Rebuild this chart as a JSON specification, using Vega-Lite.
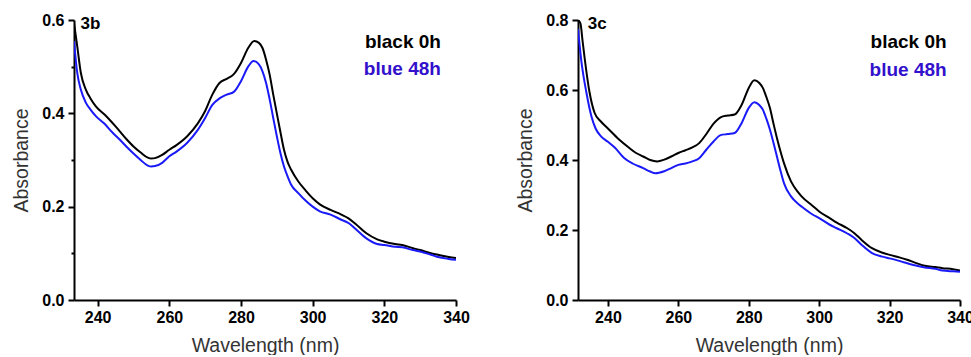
{
  "$schema": "https://vega.github.io/schema/vega-lite/v6.json",
  "autosize": {"type": "pad"},
  "padding": {"left": 11, "top": 12, "right": 0, "bottom": 0},
  "background": "white",
  "config": {
    "view": {"stroke": null},
    "axis": {
      "grid": false,
      "domainColor": "#000000",
      "domainWidth": 2,
      "tickColor": "#000000",
      "tickWidth": 2,
      "labelFont": "Liberation Sans",
      "labelFontWeight": "bold",
      "labelFontSize": 16,
      "labelColor": "#000000",
      "titleFont": "Liberation Sans",
      "titleFontWeight": "normal",
      "titleFontSize": 19.5,
      "titleColor": "#333333"
    }
  },
  "datasets": {
    "spec": [
      {"panel":"3b","series":"black 0h","wl":233.4,"A":0.594},
      {"panel":"3b","series":"black 0h","wl":234.3,"A":0.544},
      {"panel":"3b","series":"black 0h","wl":235.3,"A":0.487},
      {"panel":"3b","series":"black 0h","wl":236.7,"A":0.451},
      {"panel":"3b","series":"black 0h","wl":238,"A":0.432},
      {"panel":"3b","series":"black 0h","wl":239.5,"A":0.415},
      {"panel":"3b","series":"black 0h","wl":242,"A":0.397},
      {"panel":"3b","series":"black 0h","wl":245,"A":0.372},
      {"panel":"3b","series":"black 0h","wl":248,"A":0.345},
      {"panel":"3b","series":"black 0h","wl":250,"A":0.329},
      {"panel":"3b","series":"black 0h","wl":252,"A":0.316},
      {"panel":"3b","series":"black 0h","wl":254,"A":0.305},
      {"panel":"3b","series":"black 0h","wl":255,"A":0.303},
      {"panel":"3b","series":"black 0h","wl":256,"A":0.304},
      {"panel":"3b","series":"black 0h","wl":258,"A":0.311},
      {"panel":"3b","series":"black 0h","wl":260,"A":0.322},
      {"panel":"3b","series":"black 0h","wl":262,"A":0.332},
      {"panel":"3b","series":"black 0h","wl":265,"A":0.351},
      {"panel":"3b","series":"black 0h","wl":268,"A":0.379},
      {"panel":"3b","series":"black 0h","wl":270,"A":0.405},
      {"panel":"3b","series":"black 0h","wl":272,"A":0.44},
      {"panel":"3b","series":"black 0h","wl":274,"A":0.465},
      {"panel":"3b","series":"black 0h","wl":276,"A":0.474},
      {"panel":"3b","series":"black 0h","wl":278,"A":0.484},
      {"panel":"3b","series":"black 0h","wl":280,"A":0.508},
      {"panel":"3b","series":"black 0h","wl":282,"A":0.54},
      {"panel":"3b","series":"black 0h","wl":283.7,"A":0.555},
      {"panel":"3b","series":"black 0h","wl":285,"A":0.551},
      {"panel":"3b","series":"black 0h","wl":286,"A":0.54},
      {"panel":"3b","series":"black 0h","wl":287,"A":0.515},
      {"panel":"3b","series":"black 0h","wl":288,"A":0.483},
      {"panel":"3b","series":"black 0h","wl":289,"A":0.44},
      {"panel":"3b","series":"black 0h","wl":290,"A":0.4},
      {"panel":"3b","series":"black 0h","wl":291,"A":0.36},
      {"panel":"3b","series":"black 0h","wl":292,"A":0.322},
      {"panel":"3b","series":"black 0h","wl":293,"A":0.296},
      {"panel":"3b","series":"black 0h","wl":294,"A":0.279},
      {"panel":"3b","series":"black 0h","wl":296,"A":0.254},
      {"panel":"3b","series":"black 0h","wl":298,"A":0.235},
      {"panel":"3b","series":"black 0h","wl":300,"A":0.218},
      {"panel":"3b","series":"black 0h","wl":302,"A":0.205},
      {"panel":"3b","series":"black 0h","wl":305,"A":0.193},
      {"panel":"3b","series":"black 0h","wl":308,"A":0.183},
      {"panel":"3b","series":"black 0h","wl":310,"A":0.175},
      {"panel":"3b","series":"black 0h","wl":312,"A":0.163},
      {"panel":"3b","series":"black 0h","wl":315,"A":0.143},
      {"panel":"3b","series":"black 0h","wl":318,"A":0.13},
      {"panel":"3b","series":"black 0h","wl":320,"A":0.125},
      {"panel":"3b","series":"black 0h","wl":323,"A":0.12},
      {"panel":"3b","series":"black 0h","wl":325,"A":0.118},
      {"panel":"3b","series":"black 0h","wl":328,"A":0.111},
      {"panel":"3b","series":"black 0h","wl":330,"A":0.107},
      {"panel":"3b","series":"black 0h","wl":333,"A":0.1},
      {"panel":"3b","series":"black 0h","wl":335,"A":0.097},
      {"panel":"3b","series":"black 0h","wl":338,"A":0.092},
      {"panel":"3b","series":"black 0h","wl":340,"A":0.09},
      {"panel":"3b","series":"blue 48h","wl":233.4,"A":0.555},
      {"panel":"3b","series":"blue 48h","wl":234.3,"A":0.487},
      {"panel":"3b","series":"blue 48h","wl":235.3,"A":0.451},
      {"panel":"3b","series":"blue 48h","wl":236.7,"A":0.423},
      {"panel":"3b","series":"blue 48h","wl":238,"A":0.408},
      {"panel":"3b","series":"blue 48h","wl":239.5,"A":0.394},
      {"panel":"3b","series":"blue 48h","wl":242,"A":0.377},
      {"panel":"3b","series":"blue 48h","wl":244,"A":0.36},
      {"panel":"3b","series":"blue 48h","wl":246,"A":0.345},
      {"panel":"3b","series":"blue 48h","wl":248,"A":0.329},
      {"panel":"3b","series":"blue 48h","wl":250,"A":0.314},
      {"panel":"3b","series":"blue 48h","wl":252,"A":0.3},
      {"panel":"3b","series":"blue 48h","wl":254,"A":0.288},
      {"panel":"3b","series":"blue 48h","wl":255,"A":0.286},
      {"panel":"3b","series":"blue 48h","wl":256,"A":0.287},
      {"panel":"3b","series":"blue 48h","wl":258,"A":0.294},
      {"panel":"3b","series":"blue 48h","wl":260,"A":0.308},
      {"panel":"3b","series":"blue 48h","wl":262,"A":0.318},
      {"panel":"3b","series":"blue 48h","wl":265,"A":0.337},
      {"panel":"3b","series":"blue 48h","wl":268,"A":0.365},
      {"panel":"3b","series":"blue 48h","wl":270,"A":0.39},
      {"panel":"3b","series":"blue 48h","wl":272,"A":0.418},
      {"panel":"3b","series":"blue 48h","wl":274,"A":0.432},
      {"panel":"3b","series":"blue 48h","wl":276,"A":0.44},
      {"panel":"3b","series":"blue 48h","wl":278,"A":0.446},
      {"panel":"3b","series":"blue 48h","wl":280,"A":0.469},
      {"panel":"3b","series":"blue 48h","wl":282,"A":0.5},
      {"panel":"3b","series":"blue 48h","wl":283.5,"A":0.512},
      {"panel":"3b","series":"blue 48h","wl":285,"A":0.505},
      {"panel":"3b","series":"blue 48h","wl":286,"A":0.49},
      {"panel":"3b","series":"blue 48h","wl":287,"A":0.465},
      {"panel":"3b","series":"blue 48h","wl":288,"A":0.43},
      {"panel":"3b","series":"blue 48h","wl":289,"A":0.39},
      {"panel":"3b","series":"blue 48h","wl":290,"A":0.351},
      {"panel":"3b","series":"blue 48h","wl":291,"A":0.315},
      {"panel":"3b","series":"blue 48h","wl":292,"A":0.286},
      {"panel":"3b","series":"blue 48h","wl":293,"A":0.265},
      {"panel":"3b","series":"blue 48h","wl":294,"A":0.247},
      {"panel":"3b","series":"blue 48h","wl":296,"A":0.229},
      {"panel":"3b","series":"blue 48h","wl":298,"A":0.213},
      {"panel":"3b","series":"blue 48h","wl":300,"A":0.2},
      {"panel":"3b","series":"blue 48h","wl":302,"A":0.19},
      {"panel":"3b","series":"blue 48h","wl":305,"A":0.183},
      {"panel":"3b","series":"blue 48h","wl":308,"A":0.172},
      {"panel":"3b","series":"blue 48h","wl":310,"A":0.165},
      {"panel":"3b","series":"blue 48h","wl":312,"A":0.152},
      {"panel":"3b","series":"blue 48h","wl":315,"A":0.132},
      {"panel":"3b","series":"blue 48h","wl":318,"A":0.12},
      {"panel":"3b","series":"blue 48h","wl":320,"A":0.118},
      {"panel":"3b","series":"blue 48h","wl":323,"A":0.114},
      {"panel":"3b","series":"blue 48h","wl":325,"A":0.113},
      {"panel":"3b","series":"blue 48h","wl":328,"A":0.107},
      {"panel":"3b","series":"blue 48h","wl":330,"A":0.104},
      {"panel":"3b","series":"blue 48h","wl":333,"A":0.097},
      {"panel":"3b","series":"blue 48h","wl":335,"A":0.092},
      {"panel":"3b","series":"blue 48h","wl":338,"A":0.088},
      {"panel":"3b","series":"blue 48h","wl":340,"A":0.086},
      {"panel":"3c","series":"black 0h","wl":231.5,"A":0.8},
      {"panel":"3c","series":"black 0h","wl":232.2,"A":0.79},
      {"panel":"3c","series":"black 0h","wl":232.8,"A":0.74},
      {"panel":"3c","series":"black 0h","wl":233.4,"A":0.69},
      {"panel":"3c","series":"black 0h","wl":234.8,"A":0.592},
      {"panel":"3c","series":"black 0h","wl":236.2,"A":0.535},
      {"panel":"3c","series":"black 0h","wl":238,"A":0.51},
      {"panel":"3c","series":"black 0h","wl":240,"A":0.49},
      {"panel":"3c","series":"black 0h","wl":243,"A":0.46},
      {"panel":"3c","series":"black 0h","wl":246,"A":0.435},
      {"panel":"3c","series":"black 0h","wl":248,"A":0.42},
      {"panel":"3c","series":"black 0h","wl":250,"A":0.41},
      {"panel":"3c","series":"black 0h","wl":252,"A":0.4},
      {"panel":"3c","series":"black 0h","wl":254,"A":0.396},
      {"panel":"3c","series":"black 0h","wl":256,"A":0.401},
      {"panel":"3c","series":"black 0h","wl":258,"A":0.41},
      {"panel":"3c","series":"black 0h","wl":260,"A":0.42},
      {"panel":"3c","series":"black 0h","wl":262,"A":0.428},
      {"panel":"3c","series":"black 0h","wl":264,"A":0.436},
      {"panel":"3c","series":"black 0h","wl":266,"A":0.449},
      {"panel":"3c","series":"black 0h","wl":268,"A":0.475},
      {"panel":"3c","series":"black 0h","wl":270,"A":0.504},
      {"panel":"3c","series":"black 0h","wl":272,"A":0.522},
      {"panel":"3c","series":"black 0h","wl":274,"A":0.527},
      {"panel":"3c","series":"black 0h","wl":276,"A":0.53},
      {"panel":"3c","series":"black 0h","wl":278,"A":0.558},
      {"panel":"3c","series":"black 0h","wl":280,"A":0.606},
      {"panel":"3c","series":"black 0h","wl":281.6,"A":0.628},
      {"panel":"3c","series":"black 0h","wl":283,"A":0.62},
      {"panel":"3c","series":"black 0h","wl":284,"A":0.606},
      {"panel":"3c","series":"black 0h","wl":285,"A":0.58},
      {"panel":"3c","series":"black 0h","wl":286,"A":0.549},
      {"panel":"3c","series":"black 0h","wl":287,"A":0.505},
      {"panel":"3c","series":"black 0h","wl":288,"A":0.463},
      {"panel":"3c","series":"black 0h","wl":289,"A":0.425},
      {"panel":"3c","series":"black 0h","wl":290,"A":0.391},
      {"panel":"3c","series":"black 0h","wl":292,"A":0.339},
      {"panel":"3c","series":"black 0h","wl":294,"A":0.308},
      {"panel":"3c","series":"black 0h","wl":295,"A":0.296},
      {"panel":"3c","series":"black 0h","wl":298,"A":0.27},
      {"panel":"3c","series":"black 0h","wl":300,"A":0.253},
      {"panel":"3c","series":"black 0h","wl":303,"A":0.234},
      {"panel":"3c","series":"black 0h","wl":305,"A":0.221},
      {"panel":"3c","series":"black 0h","wl":308,"A":0.205},
      {"panel":"3c","series":"black 0h","wl":310,"A":0.191},
      {"panel":"3c","series":"black 0h","wl":312,"A":0.172},
      {"panel":"3c","series":"black 0h","wl":315,"A":0.148},
      {"panel":"3c","series":"black 0h","wl":318,"A":0.135},
      {"panel":"3c","series":"black 0h","wl":320,"A":0.129},
      {"panel":"3c","series":"black 0h","wl":323,"A":0.121},
      {"panel":"3c","series":"black 0h","wl":325,"A":0.115},
      {"panel":"3c","series":"black 0h","wl":328,"A":0.104},
      {"panel":"3c","series":"black 0h","wl":330,"A":0.098},
      {"panel":"3c","series":"black 0h","wl":333,"A":0.094},
      {"panel":"3c","series":"black 0h","wl":335,"A":0.091},
      {"panel":"3c","series":"black 0h","wl":338,"A":0.088},
      {"panel":"3c","series":"black 0h","wl":340,"A":0.084},
      {"panel":"3c","series":"blue 48h","wl":231.5,"A":0.775},
      {"panel":"3c","series":"blue 48h","wl":232.4,"A":0.687},
      {"panel":"3c","series":"blue 48h","wl":233.9,"A":0.592},
      {"panel":"3c","series":"blue 48h","wl":235.3,"A":0.525},
      {"panel":"3c","series":"blue 48h","wl":236.5,"A":0.49},
      {"panel":"3c","series":"blue 48h","wl":238.1,"A":0.467},
      {"panel":"3c","series":"blue 48h","wl":240,"A":0.452},
      {"panel":"3c","series":"blue 48h","wl":242,"A":0.435},
      {"panel":"3c","series":"blue 48h","wl":244.6,"A":0.406},
      {"panel":"3c","series":"blue 48h","wl":247,"A":0.39},
      {"panel":"3c","series":"blue 48h","wl":250,"A":0.377},
      {"panel":"3c","series":"blue 48h","wl":252,"A":0.367},
      {"panel":"3c","series":"blue 48h","wl":253.5,"A":0.362},
      {"panel":"3c","series":"blue 48h","wl":256,"A":0.368},
      {"panel":"3c","series":"blue 48h","wl":258,"A":0.377},
      {"panel":"3c","series":"blue 48h","wl":260,"A":0.386},
      {"panel":"3c","series":"blue 48h","wl":262,"A":0.39},
      {"panel":"3c","series":"blue 48h","wl":264,"A":0.396},
      {"panel":"3c","series":"blue 48h","wl":266,"A":0.406},
      {"panel":"3c","series":"blue 48h","wl":268,"A":0.43},
      {"panel":"3c","series":"blue 48h","wl":270,"A":0.453},
      {"panel":"3c","series":"blue 48h","wl":272,"A":0.471},
      {"panel":"3c","series":"blue 48h","wl":274,"A":0.474},
      {"panel":"3c","series":"blue 48h","wl":276,"A":0.477},
      {"panel":"3c","series":"blue 48h","wl":278,"A":0.506},
      {"panel":"3c","series":"blue 48h","wl":280,"A":0.549},
      {"panel":"3c","series":"blue 48h","wl":281.6,"A":0.565},
      {"panel":"3c","series":"blue 48h","wl":283,"A":0.557},
      {"panel":"3c","series":"blue 48h","wl":284,"A":0.544},
      {"panel":"3c","series":"blue 48h","wl":285,"A":0.518},
      {"panel":"3c","series":"blue 48h","wl":286,"A":0.487},
      {"panel":"3c","series":"blue 48h","wl":287,"A":0.45},
      {"panel":"3c","series":"blue 48h","wl":288,"A":0.41},
      {"panel":"3c","series":"blue 48h","wl":289,"A":0.37},
      {"panel":"3c","series":"blue 48h","wl":290,"A":0.334},
      {"panel":"3c","series":"blue 48h","wl":292,"A":0.296},
      {"panel":"3c","series":"blue 48h","wl":294,"A":0.275},
      {"panel":"3c","series":"blue 48h","wl":295,"A":0.267},
      {"panel":"3c","series":"blue 48h","wl":298,"A":0.245},
      {"panel":"3c","series":"blue 48h","wl":300,"A":0.234},
      {"panel":"3c","series":"blue 48h","wl":303,"A":0.215},
      {"panel":"3c","series":"blue 48h","wl":305,"A":0.205},
      {"panel":"3c","series":"blue 48h","wl":308,"A":0.19},
      {"panel":"3c","series":"blue 48h","wl":310,"A":0.177},
      {"panel":"3c","series":"blue 48h","wl":312,"A":0.158},
      {"panel":"3c","series":"blue 48h","wl":315,"A":0.134},
      {"panel":"3c","series":"blue 48h","wl":318,"A":0.124},
      {"panel":"3c","series":"blue 48h","wl":320,"A":0.119},
      {"panel":"3c","series":"blue 48h","wl":323,"A":0.111},
      {"panel":"3c","series":"blue 48h","wl":325,"A":0.105},
      {"panel":"3c","series":"blue 48h","wl":328,"A":0.097},
      {"panel":"3c","series":"blue 48h","wl":330,"A":0.093},
      {"panel":"3c","series":"blue 48h","wl":333,"A":0.089},
      {"panel":"3c","series":"blue 48h","wl":335,"A":0.084},
      {"panel":"3c","series":"blue 48h","wl":338,"A":0.082},
      {"panel":"3c","series":"blue 48h","wl":340,"A":0.081}
    ],
    "notes": [
      {"panel":"3b","kind":"tag","label":"3b","wl":235.2,"A":0.592},
      {"panel":"3b","kind":"black","label":"black 0h","wl":335.8,"A":0.552},
      {"panel":"3b","kind":"blue","label":"blue 48h","wl":335.8,"A":0.494},
      {"panel":"3c","kind":"tag","label":"3c","wl":234.3,"A":0.79},
      {"panel":"3c","kind":"black","label":"black 0h","wl":336.2,"A":0.736},
      {"panel":"3c","kind":"blue","label":"blue 48h","wl":336.2,"A":0.658}
    ]
  },
  "hconcat": [
    {
      "width": 382,
      "height": 280,
      "layer": [
        {
          "data": {"name": "spec"},
          "transform": [{"filter": "datum.panel === '3b'"}],
          "mark": {"type": "line", "strokeWidth": 2, "interpolate": "monotone", "clip": true},
          "encoding": {
            "x": {"field": "wl", "type": "quantitative",
              "scale": {"domain": [233.4, 340], "nice": false, "zero": false},
              "axis": {"title": "Wavelength (nm)", "values": [240,250,260,270,280,290,300,310,320,330,340],
                "labelExpr": "datum.value % 20 === 0 ? datum.label : ''",
                "tickSize": {"condition": {"test": "datum.value % 20 === 0", "value": 6}, "value": 3},
                "labelPadding": 3, "titlePadding": 11, "labelFlush": false}},
            "y": {"field": "A", "type": "quantitative",
              "scale": {"domain": [0, 0.6], "nice": false},
              "axis": {"title": "Absorbance", "values": [0,0.1,0.2,0.3,0.4,0.5,0.6],
                "labelExpr": "round(datum.value*10) % 2 === 0 ? format(datum.value, '.1f') : ''",
                "tickSize": {"condition": {"test": "round(datum.value*10) % 2 === 0", "value": 6}, "value": 3},
                "labelPadding": 4, "titlePadding": 10, "labelFlush": false}},
            "color": {"field": "series", "type": "nominal",
              "scale": {"domain": ["black 0h", "blue 48h"], "range": ["#000000", "#1a1af8"]},
              "legend": null}
          }
        },
        {
          "data": {"name": "notes"},
          "transform": [{"filter": "datum.panel === '3b' && datum.kind === 'tag'"}],
          "mark": {"type": "text", "align": "left", "baseline": "middle", "font": "Liberation Sans", "fontWeight": "bold", "fontSize": 17, "color": "#000000"},
          "encoding": {"x": {"field": "wl", "type": "quantitative"}, "y": {"field": "A", "type": "quantitative"}, "text": {"field": "label"}}
        },
        {
          "data": {"name": "notes"},
          "transform": [{"filter": "datum.panel === '3b' && datum.kind === 'black'"}],
          "mark": {"type": "text", "align": "right", "baseline": "middle", "font": "Liberation Sans", "fontWeight": "bold", "fontSize": 19, "color": "#000000"},
          "encoding": {"x": {"field": "wl", "type": "quantitative"}, "y": {"field": "A", "type": "quantitative"}, "text": {"field": "label"}}
        },
        {
          "data": {"name": "notes"},
          "transform": [{"filter": "datum.panel === '3b' && datum.kind === 'blue'"}],
          "mark": {"type": "text", "align": "right", "baseline": "middle", "font": "Liberation Sans", "fontWeight": "bold", "fontSize": 19, "color": "#3311cc"},
          "encoding": {"x": {"field": "wl", "type": "quantitative"}, "y": {"field": "A", "type": "quantitative"}, "text": {"field": "label"}}
        }
      ]
    },
    {
      "width": 382,
      "height": 280,
      "layer": [
        {
          "data": {"name": "spec"},
          "transform": [{"filter": "datum.panel === '3c'"}],
          "mark": {"type": "line", "strokeWidth": 2, "interpolate": "monotone", "clip": true},
          "encoding": {
            "x": {"field": "wl", "type": "quantitative",
              "scale": {"domain": [231.5, 340], "nice": false, "zero": false},
              "axis": {"title": "Wavelength (nm)", "values": [240,250,260,270,280,290,300,310,320,330,340],
                "labelExpr": "datum.value % 20 === 0 ? datum.label : ''",
                "tickSize": {"condition": {"test": "datum.value % 20 === 0", "value": 6}, "value": 3},
                "labelPadding": 3, "titlePadding": 11, "labelFlush": false}},
            "y": {"field": "A", "type": "quantitative",
              "scale": {"domain": [0, 0.8], "nice": false},
              "axis": {"title": "Absorbance", "values": [0,0.1,0.2,0.3,0.4,0.5,0.6,0.7,0.8],
                "labelExpr": "round(datum.value*10) % 2 === 0 ? format(datum.value, '.1f') : ''",
                "tickSize": {"condition": {"test": "round(datum.value*10) % 2 === 0", "value": 6}, "value": 3},
                "labelPadding": 4, "titlePadding": 10, "labelFlush": false}},
            "color": {"field": "series", "type": "nominal",
              "scale": {"domain": ["black 0h", "blue 48h"], "range": ["#000000", "#1a1af8"]},
              "legend": null}
          }
        },
        {
          "data": {"name": "notes"},
          "transform": [{"filter": "datum.panel === '3c' && datum.kind === 'tag'"}],
          "mark": {"type": "text", "align": "left", "baseline": "middle", "font": "Liberation Sans", "fontWeight": "bold", "fontSize": 17, "color": "#000000"},
          "encoding": {"x": {"field": "wl", "type": "quantitative"}, "y": {"field": "A", "type": "quantitative"}, "text": {"field": "label"}}
        },
        {
          "data": {"name": "notes"},
          "transform": [{"filter": "datum.panel === '3c' && datum.kind === 'black'"}],
          "mark": {"type": "text", "align": "right", "baseline": "middle", "font": "Liberation Sans", "fontWeight": "bold", "fontSize": 19, "color": "#000000"},
          "encoding": {"x": {"field": "wl", "type": "quantitative"}, "y": {"field": "A", "type": "quantitative"}, "text": {"field": "label"}}
        },
        {
          "data": {"name": "notes"},
          "transform": [{"filter": "datum.panel === '3c' && datum.kind === 'blue'"}],
          "mark": {"type": "text", "align": "right", "baseline": "middle", "font": "Liberation Sans", "fontWeight": "bold", "fontSize": 19, "color": "#3311cc"},
          "encoding": {"x": {"field": "wl", "type": "quantitative"}, "y": {"field": "A", "type": "quantitative"}, "text": {"field": "label"}}
        }
      ]
    }
  ],
  "bounds": "flush",
  "spacing": 122
}
